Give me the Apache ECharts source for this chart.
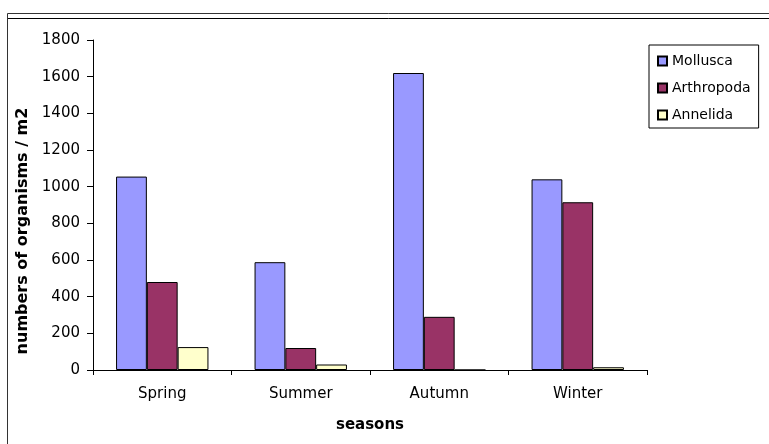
<!DOCTYPE html>
<html>
<head>
<meta charset="utf-8">
<script src="https://cdn.jsdelivr.net/npm/echarts@6/dist/echarts.min.js"></script>
<style>
  html, body { margin: 0; padding: 0; background: #fff; }
  #chart { width: 769px; height: 444px; }
</style>
</head>
<body>
<div id="chart"></div>
<script>
// Benthic organism counts per square metre, by season
const seasons = ['Spring', 'Summer', 'Autumn', 'Winter'];
const mollusca = [1055, 588, 1620, 1040];
const arthropoda = [480, 120, 290, 915];
const annelida = [125, 30, 0, 15];
const yTicks = { min: 0, max: 1800, interval: 200 };

const FONT = 'DejaVu Sans';
const chart = echarts.init(document.getElementById('chart'), null, { renderer: 'canvas' });

function barSeries(name, data, color) {
  return {
    name: name,
    type: 'bar',
    data: data,
    barGap: '0%',
    barCategoryGap: '33.3%',
    itemStyle: { color: color, borderColor: '#000', borderWidth: 1 },
    emphasis: { disabled: true }
  };
}

chart.setOption({
  animation: false,
  backgroundColor: '#fff',
  textStyle: { fontFamily: FONT, color: '#000' },
  grid: { left: 93, right: 122, top: 40, bottom: 74, containLabel: false },
  legend: {
    orient: 'vertical',
    left: 649,
    top: 45,
    padding: [9, 8, 6, 8],
    itemWidth: 9,
    itemHeight: 9,
    itemGap: 13,
    icon: 'rect',
    borderColor: '#000',
    borderWidth: 1,
    selectedMode: false,
    textStyle: { fontFamily: FONT, fontSize: 14, color: '#000' },
    data: ['Mollusca', 'Arthropoda', 'Annelida']
  },
  xAxis: {
    type: 'category',
    data: seasons,
    name: 'seasons',
    nameLocation: 'middle',
    nameGap: 48,
    nameTextStyle: { fontFamily: FONT, fontSize: 15, fontWeight: 'bold', color: '#000' },
    axisLine: { lineStyle: { color: '#000', width: 1 } },
    axisTick: { show: true, length: 5, lineStyle: { color: '#000' } },
    axisLabel: { margin: 17, fontFamily: FONT, fontSize: 15, color: '#000' },
    splitLine: { show: false }
  },
  yAxis: {
    type: 'value',
    min: yTicks.min,
    max: yTicks.max,
    interval: yTicks.interval,
    name: 'numbers of organisms / m2',
    nameLocation: 'middle',
    nameRotate: 90,
    nameGap: 49,
    nameTextStyle: {
      fontFamily: FONT, fontSize: 16, fontWeight: 'bold', color: '#000',
      padding: [0, 52, 0, 0]
    },
    axisLine: { show: true, lineStyle: { color: '#000', width: 1 } },
    axisTick: { show: true, length: 6, lineStyle: { color: '#000' } },
    axisLabel: {
      margin: 13, fontFamily: FONT, fontSize: 15, color: '#000',
      formatter: function (v) { return String(v); }
    },
    splitLine: { show: false }
  },
  graphic: [
    // chart frame: double rule along the top, single rule on the left
    { type: 'line', shape: { x1: 7.5, y1: 13.5, x2: 769, y2: 13.5 }, style: { stroke: '#333', lineWidth: 1 }, silent: true },
    { type: 'line', shape: { x1: 7.5, y1: 18.5, x2: 769, y2: 18.5 }, style: { stroke: '#000', lineWidth: 1 }, silent: true },
    { type: 'line', shape: { x1: 7.5, y1: 13.5, x2: 7.5, y2: 444 }, style: { stroke: '#333', lineWidth: 1 }, silent: true }
  ],
  series: [
    barSeries('Mollusca', mollusca, '#9999FF'),
    barSeries('Arthropoda', arthropoda, '#993366'),
    barSeries('Annelida', annelida, '#FFFFCC')
  ]
});
</script>
</body>
</html>
